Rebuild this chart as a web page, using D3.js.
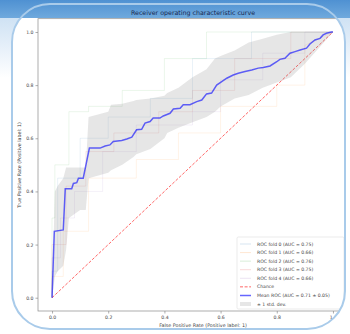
<!DOCTYPE html>
<html><head><meta charset="utf-8">
<script src="https://cdn.jsdelivr.net/npm/d3@7"></script>
<style>html,body{margin:0;padding:0;background:#fff;}svg{display:block;}</style>
</head><body>
<script>
// ---- data ----
const titleText = "Receiver operating characteristic curve";
const xLabel = "False Positive Rate (Positive label: 1)";
const yLabel = "True Positive Rate (Positive label: 1)";
const tickValues = [0.0, 0.2, 0.4, 0.6, 0.8, 1.0];

const meanFpr = [0, 0.008, 0.04, 0.047, 0.07, 0.076, 0.088, 0.094, 0.111, 0.133, 0.171, 0.189, 0.206, 0.218, 0.248, 0.266, 0.284, 0.301, 0.319, 0.331, 0.349, 0.36, 0.384, 0.396, 0.42, 0.432, 0.456, 0.467, 0.491, 0.515, 0.533, 0.55, 0.568, 0.586, 0.604, 0.622, 0.645, 0.663, 0.687, 0.711, 0.734, 0.752, 0.776, 0.8, 0.811, 0.829, 0.847, 0.865, 0.883, 0.906, 0.918, 0.936, 0.954, 0.965, 0.977, 0.995, 1.0];
const meanTpr = [0, 0.25, 0.255, 0.41, 0.41, 0.43, 0.433, 0.45, 0.45, 0.563, 0.563, 0.571, 0.575, 0.588, 0.592, 0.597, 0.604, 0.632, 0.634, 0.657, 0.663, 0.676, 0.676, 0.684, 0.694, 0.71, 0.713, 0.726, 0.726, 0.738, 0.744, 0.767, 0.77, 0.8, 0.813, 0.826, 0.838, 0.845, 0.851, 0.857, 0.864, 0.866, 0.872, 0.888, 0.897, 0.901, 0.92, 0.926, 0.932, 0.939, 0.955, 0.97, 0.976, 0.989, 0.995, 1.0, 1.0];

const bandFpr   = [0, 0.01, 0.02, 0.04, 0.05, 0.06, 0.1, 0.12, 0.13, 0.2, 0.21, 0.25, 0.29, 0.3, 0.35, 0.4, 0.41, 0.45, 0.5, 0.55, 0.58, 0.6, 0.65, 0.7, 0.75, 0.8, 0.85, 0.9, 0.95, 1.0];
const bandUpper = [0, 0.40, 0.42, 0.45, 0.49, 0.49, 0.49, 0.49, 0.68, 0.70, 0.726, 0.73, 0.74, 0.744, 0.75, 0.76, 0.77, 0.79, 0.83, 0.86, 0.90, 0.91, 0.93, 0.96, 0.975, 0.99, 1.0, 1.0, 1.0, 1.0];
const bandLower = [0, 0.08, 0.10, 0.12, 0.18, 0.30, 0.33, 0.33, 0.45, 0.47, 0.48, 0.50, 0.53, 0.54, 0.56, 0.60, 0.62, 0.64, 0.66, 0.68, 0.70, 0.72, 0.75, 0.763, 0.79, 0.81, 0.83, 0.88, 0.94, 1.0];

const foldNames = ["ROC fold 0 (AUC = 0.75)", "ROC fold 1 (AUC = 0.66)", "ROC fold 2 (AUC = 0.76)", "ROC fold 3 (AUC = 0.75)", "ROC fold 4 (AUC = 0.66)"];
const fold0Fpr = [0, 0, 0.02, 0.02, 0.1, 0.1, 0.2, 0.2, 0.35, 0.35, 0.5, 0.5, 0.71, 0.71, 1];
const fold0Tpr = [0, 0.1, 0.1, 0.45, 0.45, 0.6, 0.6, 0.68, 0.68, 0.75, 0.75, 0.9, 0.9, 1, 1];
const fold1Fpr = [0, 0, 0.04, 0.04, 0.13, 0.13, 0.3, 0.3, 0.45, 0.45, 0.6, 0.6, 0.8, 0.8, 0.9, 0.9, 1];
const fold1Tpr = [0, 0.08, 0.08, 0.25, 0.25, 0.45, 0.45, 0.52, 0.52, 0.62, 0.62, 0.72, 0.72, 0.8, 0.8, 0.95, 1];
const fold2Fpr = [0, 0, 0.01, 0.01, 0.06, 0.06, 0.13, 0.13, 0.25, 0.25, 0.4, 0.4, 0.55, 0.55, 1];
const fold2Tpr = [0, 0.3, 0.3, 0.5, 0.5, 0.7, 0.7, 0.72, 0.72, 0.78, 0.78, 0.9, 0.9, 1, 1];
const fold3Fpr = [0, 0, 0.05, 0.05, 0.12, 0.12, 0.22, 0.22, 0.38, 0.38, 0.5, 0.5, 0.65, 0.65, 0.85, 0.85, 1];
const fold3Tpr = [0, 0.2, 0.2, 0.42, 0.42, 0.55, 0.55, 0.62, 0.62, 0.7, 0.7, 0.78, 0.78, 0.9, 0.9, 1, 1];
const fold4Fpr = [0, 0, 0.03, 0.03, 0.08, 0.08, 0.18, 0.18, 0.3, 0.3, 0.5, 0.5, 0.6, 0.6, 0.75, 0.75, 0.9, 0.9, 1];
const fold4Tpr = [0, 0.15, 0.15, 0.3, 0.3, 0.4, 0.4, 0.55, 0.55, 0.65, 0.65, 0.7, 0.7, 0.82, 0.82, 0.92, 0.92, 1, 1];
const foldColors = ["#1f77b4", "#ff7f0e", "#2ca02c", "#d62728", "#9467bd"];

const chanceLabel = "Chance";
const meanLabel = "Mean ROC (AUC = 0.71 \u00b1 0.05)";
const stdLabel = "\u00b1 1 std. dev.";

// ---- drawing ----
const W = 350, H = 334;
const svg = d3.select("body").append("svg").attr("width", W).attr("height", H);
const defs = svg.append("defs");

const gTop = defs.append("linearGradient").attr("id", "gTop").attr("x1", 0).attr("y1", 0).attr("x2", 0).attr("y2", 1);
gTop.append("stop").attr("offset", "0%").attr("stop-color", "#4f91d2");
gTop.append("stop").attr("offset", "100%").attr("stop-color", "#6fa9dd");
const gSub = defs.append("linearGradient").attr("id", "gSub").attr("x1", 0).attr("y1", 0).attr("x2", 0).attr("y2", 1);
gSub.append("stop").attr("offset", "0%").attr("stop-color", "#cfe2f4");
gSub.append("stop").attr("offset", "100%").attr("stop-color", "#ffffff");

svg.append("rect").attr("width", W).attr("height", H).attr("fill", "#ffffff");
svg.append("rect").attr("x", 0).attr("y", 18).attr("width", W).attr("height", 60).attr("fill", "url(#gSub)");
svg.append("rect").attr("x", 0).attr("y", 0).attr("width", W).attr("height", 18).attr("fill", "url(#gTop)");

// card
const card = {x: 12, y: 4, w: 333, h: 325, r: 38};
defs.append("clipPath").attr("id", "cardClip").append("rect")
  .attr("x", card.x).attr("y", card.y).attr("width", card.w).attr("height", card.h)
  .attr("rx", card.r).attr("ry", card.r);
svg.append("rect").attr("x", card.x).attr("y", card.y).attr("width", card.w).attr("height", card.h)
  .attr("rx", card.r).attr("ry", card.r).attr("fill", "#ffffff");

const inner = svg.append("g").attr("clip-path", "url(#cardClip)");
inner.append("rect").attr("x", 0).attr("y", 0).attr("width", W).attr("height", 18).attr("fill", "url(#gTop)");

const x = d3.scaleLinear().domain([-0.05, 1.05]).range([38, 347]);
const y = d3.scaleLinear().domain([-0.05, 1.05]).range([311, 18.7]);

const font = "DejaVu Sans, sans-serif";

inner.append("text").attr("x", 193).attr("y", 14.5).attr("text-anchor", "middle")
  .attr("font-family", font).attr("font-size", 6.3).attr("fill", "#16264e").text(titleText);

// plot content
const plot = inner.append("g");
const line = d3.line().x(d => x(d[0])).y(d => y(d[1]));

const folds = [[fold0Fpr, fold0Tpr], [fold1Fpr, fold1Tpr], [fold2Fpr, fold2Tpr], [fold3Fpr, fold3Tpr], [fold4Fpr, fold4Tpr]];
folds.forEach((f, i) => {
  plot.append("path").datum(d3.zip(f[0], f[1])).attr("d", line)
    .attr("fill", "none").attr("stroke", foldColors[i]).attr("stroke-opacity", 0.16).attr("stroke-width", 0.6);
});

// chance line
plot.append("path").datum([[0, 0], [1, 1]]).attr("d", line)
  .attr("fill", "none").attr("stroke", "#ff0000").attr("stroke-opacity", 0.6)
  .attr("stroke-width", 1).attr("stroke-dasharray", "3,1.6");

// std band
const area = d3.area().x(d => x(d[0])).y0(d => y(d[1])).y1(d => y(d[2]));
plot.append("path").datum(d3.zip(bandFpr, bandLower, bandUpper)).attr("d", area)
  .attr("fill", "#808080").attr("fill-opacity", 0.2).attr("stroke", "none");

// mean line
plot.append("path").datum(d3.zip(meanFpr, meanTpr)).attr("d", line)
  .attr("fill", "none").attr("stroke", "#0000ff").attr("stroke-opacity", 0.6).attr("stroke-width", 1.5);

// axes
const xAxis = d3.axisBottom(x).tickValues(tickValues).tickFormat(d3.format(".1f")).tickSize(2.5).tickPadding(2);
const yAxis = d3.axisLeft(y).tickValues(tickValues).tickFormat(d3.format(".1f")).tickSize(2.5).tickPadding(2);
const gx = inner.append("g").attr("transform", "translate(0,311)").call(xAxis);
const gy = inner.append("g").attr("transform", "translate(38,0)").call(yAxis);
[gx, gy].forEach(g => {
  g.select(".domain").remove();
  g.selectAll("line").attr("stroke", "#777").attr("stroke-width", 0.6);
  g.selectAll("text").attr("font-family", font).attr("font-size", 4.6).attr("fill", "#444");
});
// spines
inner.append("rect").attr("x", 38).attr("y", 18.7).attr("width", 309).attr("height", 292.3)
  .attr("fill", "none").attr("stroke", "#8a8a8a").attr("stroke-width", 0.7);

inner.append("text").attr("x", 203).attr("y", 327).attr("text-anchor", "middle")
  .attr("font-family", font).attr("font-size", 4.8).attr("fill", "#444").text(xLabel);
inner.append("text").attr("transform", "translate(21,165) rotate(-90)").attr("text-anchor", "middle")
  .attr("font-family", font).attr("font-size", 4.8).attr("fill", "#444").text(yLabel);

// legend
const lg = inner.append("g").attr("transform", "translate(237,237)");
lg.append("rect").attr("x", 0).attr("y", 0).attr("width", 107).attr("height", 72).attr("rx", 1.5)
  .attr("fill", "#ffffff").attr("fill-opacity", 0.85).attr("stroke", "#dddddd").attr("stroke-width", 0.6);
const entries = foldNames.map((n, i) => ({label: n, type: "line", color: foldColors[i], op: 0.3, w: 0.6}))
  .concat([
    {label: chanceLabel, type: "dash", color: "#ff0000", op: 0.6, w: 1},
    {label: meanLabel, type: "line", color: "#0000ff", op: 0.6, w: 1.5},
    {label: stdLabel, type: "patch", color: "#808080", op: 0.2}
  ]);
const ly = d3.scalePoint().domain(d3.range(entries.length)).range([7, 67]);
entries.forEach((e, i) => {
  const yy = ly(i);
  if (e.type === "patch") {
    lg.append("rect").attr("x", 3).attr("y", yy - 2).attr("width", 11).attr("height", 4)
      .attr("fill", e.color).attr("fill-opacity", e.op);
  } else {
    lg.append("line").attr("x1", 3).attr("x2", 14).attr("y1", yy).attr("y2", yy)
      .attr("stroke", e.color).attr("stroke-opacity", e.op).attr("stroke-width", e.w)
      .attr("stroke-dasharray", e.type === "dash" ? "3,1.6" : null);
  }
  lg.append("text").attr("x", 20).attr("y", yy + 1.6).attr("font-family", font)
    .attr("font-size", 4.6).attr("fill", "#444").text(e.label);
});

// card border
svg.append("rect").attr("x", card.x).attr("y", card.y).attr("width", card.w).attr("height", card.h)
  .attr("rx", card.r).attr("ry", card.r).attr("fill", "none").attr("stroke", "#a9cbea").attr("stroke-width", 2);
</script>
</body></html>
